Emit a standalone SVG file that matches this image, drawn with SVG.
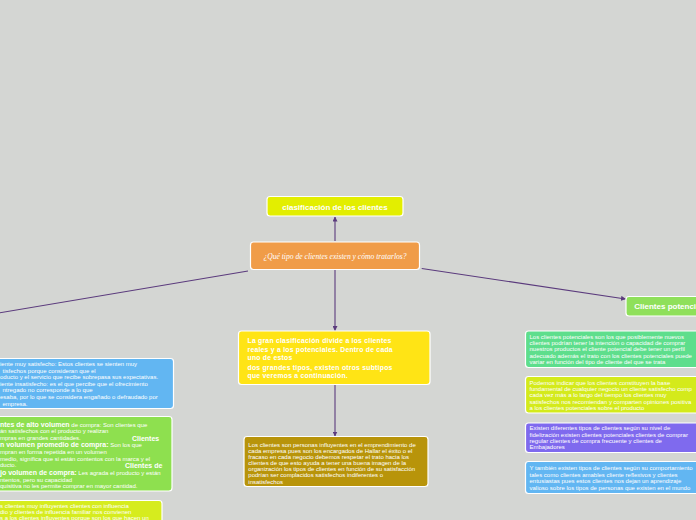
<svg xmlns="http://www.w3.org/2000/svg" width="696" height="520" viewBox="0 0 696 520">
<defs>
<marker id="arr" viewBox="0 0 10 10" refX="9" refY="5" markerWidth="5" markerHeight="5" orient="auto" markerUnits="userSpaceOnUse">
<path d="M0,0 L10,5 L0,10 z" fill="#5b3b7d"/>
</marker>
<style>
.bg{fill:#d4d6d3}
.box{stroke:#ffffff;stroke-width:1.2}
.con{stroke:#5b3b7d;stroke-width:1.1;fill:none}
.t{font-family:"Liberation Sans",Arial,sans-serif;font-size:6px;fill:#ffffff}
.b{font-family:"Liberation Sans",Arial,sans-serif;font-weight:bold;fill:#ffffff}
.c{font-family:"Liberation Serif","Times New Roman",serif;font-style:italic;font-size:7.6px;fill:#ffffff}
</style>
</defs>
<rect class="bg" x="0" y="0" width="696" height="520"/>
<g id="connectors">
<line class="con" x1="335" y1="241" x2="335" y2="217" marker-end="url(#arr)"/>
<line class="con" x1="248" y1="271" x2="-10" y2="314.4"/>
<line class="con" x1="421.7" y1="268.5" x2="625.5" y2="299" marker-end="url(#arr)"/>
<line class="con" x1="335" y1="270" x2="335" y2="330.5" marker-end="url(#arr)"/>
<line class="con" x1="335" y1="385" x2="335" y2="436" marker-end="url(#arr)"/>
</g>
<g id="n-top">
<rect class="box" x="267" y="196.5" width="136" height="19.5" rx="3" fill="#e3ee00"/>
<text class="b" x="335" y="209.5" font-size="8" text-anchor="middle">clasificación de los clientes</text>
</g>
<g id="n-center">
<rect class="box" x="250.5" y="242" width="169" height="27.5" rx="3" fill="#f09c48"/>
<text class="c" x="335" y="259" text-anchor="middle">¿Qué tipo de clientes existen y cómo tratarlos?</text>
</g>
<g id="n-yellow">
<rect class="box" x="238.5" y="331" width="191.5" height="53.5" rx="3" fill="#ffe415"/>
<text class="b" font-size="6.8" letter-spacing="0.25">
<tspan x="247.5" y="343.2">La gran clasificación divide a los clientes</tspan>
<tspan x="247.5" y="351.6">reales y a los potenciales. Dentro de cada</tspan>
<tspan x="247.5" y="359.8">uno de estos</tspan>
<tspan x="247.5" y="370.2">dos grandes tipos, existen otros subtipos</tspan>
<tspan x="247.5" y="377.6">que veremos a continuación.</tspan>
</text>
</g>
<g id="n-olive">
<rect class="box" x="244" y="436.5" width="184" height="50" rx="3" fill="#b8940a"/>
<text class="t">
<tspan x="248.3" y="446.7">Los clientes son personas influyentes en el emprendimiento de</tspan>
<tspan x="248.3" y="452.8">cada empresa pues son los encargados de Hallar el éxito o el</tspan>
<tspan x="248.3" y="458.9">fracaso en cada negocio debemos respetar el trato hacia los</tspan>
<tspan x="248.3" y="465">clientes de que esto ayuda a tener una buena imagen de la</tspan>
<tspan x="248.3" y="471.1">organización los tipos de clientes en función de su satisfacción</tspan>
<tspan x="248.3" y="477.2">podrían ser complacidos satisfechos indiferentes o</tspan>
<tspan x="248.3" y="483.6">insatisfechos</tspan>
</text>
</g>
<g id="n-left-blue">
<rect class="box" x="-20" y="358.5" width="193.5" height="50" rx="3" fill="#62b6f2"/>
<text class="t" font-size="5.9">
<tspan x="0" y="366.3">iente muy satisfecho: Estos clientes se sienten muy</tspan>
<tspan x="2.5" y="372.7">tisfechos porque consideran que el</tspan>
<tspan x="0" y="379.3">oducto y el servicio que recibe sobrepasa sus expectativas.</tspan>
<tspan x="0" y="386.3">iente insatisfecho: es el que percibe que el ofrecimiento</tspan>
<tspan x="2.5" y="391.9">ntregado no corresponde a lo que</tspan>
<tspan x="0" y="399">esaba, por lo que se considera engañado o defraudado por</tspan>
<tspan x="2.5" y="405.5">empresa.</tspan>
</text>
</g>
<g id="n-left-green">
<rect class="box" x="-20" y="416.5" width="192" height="74.5" rx="3" fill="#8ee04f"/>
<text class="t"><tspan class="b" font-size="7" x="0" y="426.5">ntes de alto volumen</tspan><tspan> de compra: Son clientes que</tspan></text>
<text class="t" x="0" y="433.3">án satisfechos con el producto y realizan</text>
<text class="t" x="0" y="440.3">mpras en grandes cantidades.</text>
<text class="b" font-size="7" x="132" y="440.6">Clientes</text>
<text class="t"><tspan class="b" font-size="7" x="0" y="447">n volumen promedio de compra:</tspan><tspan> Son los que</tspan></text>
<text class="t" x="0" y="454">mpran en forma repetida en un volumen</text>
<text class="t" x="0" y="460.8">medio, significa que si están contentos con la marca y el</text>
<text class="t" x="0" y="467.4">ducto.</text>
<text class="b" font-size="7" x="125" y="467.6">Clientes de</text>
<text class="t"><tspan class="b" font-size="7" x="0" y="474.6">jo volumen de compra:</tspan><tspan> Les agrada el producto y están</tspan></text>
<text class="t" x="0" y="481.8">ntentos, pero su capacidad</text>
<text class="t" x="0" y="488.4">quisitiva no les permite comprar en mayor cantidad.</text>
</g>
<g id="n-left-yellow">
<rect class="box" x="-20" y="500.5" width="182" height="40" rx="3" fill="#d6ec1e"/>
<text class="t">
<tspan x="0" y="507.8">s clientes muy influyentes clientes con influencia</tspan>
<tspan x="0" y="513.8">dio y clientes de influencia familiar nos convienen</tspan>
<tspan x="0" y="520">s a los clientes influyentes porque son los que hacen un</tspan>
</text>
</g>
<g id="n-right-green">
<rect class="box" x="626" y="296.5" width="90" height="19.5" rx="3" fill="#8fe05a"/>
<text class="b" font-size="8" x="634.3" y="309.3">Clientes potenci</text>
</g>
<g id="n-right-teal">
<rect class="box" x="525.5" y="331" width="190" height="36.5" rx="3" fill="#5ede8c"/>
<text class="t">
<tspan x="529.5" y="338.6">Los clientes potenciales son los que posiblemente nuevos</tspan>
<tspan x="529.5" y="344.8">clientes podrían tener la intención o capacidad de comprar</tspan>
<tspan x="529.5" y="351.2">nuestros productos el cliente potencial debe tener un perfil</tspan>
<tspan x="529.5" y="357.6">adecuado además el trato con los clientes potenciales puede</tspan>
<tspan x="529.5" y="364">variar en función del tipo de cliente del que se trata</tspan>
</text>
</g>
<g id="n-right-lime">
<rect class="box" x="525.5" y="376.5" width="190" height="36.5" rx="3" fill="#d4ea1b"/>
<text class="t">
<tspan x="529.5" y="384.6">Podemos indicar que los clientes constituyen la base</tspan>
<tspan x="529.5" y="391">fundamental de cualquier negocio un cliente satisfecho comp</tspan>
<tspan x="529.5" y="397.4">cada vez más a lo largo del tiempo los clientes muy</tspan>
<tspan x="529.5" y="403.8">satisfechos nos recomiendan y comparten opiniones positiva</tspan>
<tspan x="529.5" y="410.2">a los clientes potenciales sobre el producto</tspan>
</text>
</g>
<g id="n-right-purple">
<rect class="box" x="525.5" y="423" width="190" height="29.5" rx="3" fill="#7f6aee"/>
<text class="t">
<tspan x="529.5" y="430.2">Existen diferentes tipos de clientes según su nivel de</tspan>
<tspan x="529.5" y="436.6">fidelización existen clientes potenciales clientes de comprar</tspan>
<tspan x="529.5" y="443">regular clientes de compra frecuente y clientes de</tspan>
<tspan x="529.5" y="449.4">Embajadores</tspan>
</text>
</g>
<g id="n-right-blue">
<rect class="box" x="525.5" y="461.5" width="190" height="32" rx="3" fill="#62b6f2"/>
<text class="t">
<tspan x="529.5" y="470.2">Y también existen tipos de clientes según su comportamiento</tspan>
<tspan x="529.5" y="476.6">tales como clientes amables cliente reflexivos y clientes</tspan>
<tspan x="529.5" y="483">entusiastas pues estos clientes nos dejan un aprendizaje</tspan>
<tspan x="529.5" y="489.6">valioso sobre los tipos de personas que existen en el mundo</tspan>
</text>
</g>
</svg>
